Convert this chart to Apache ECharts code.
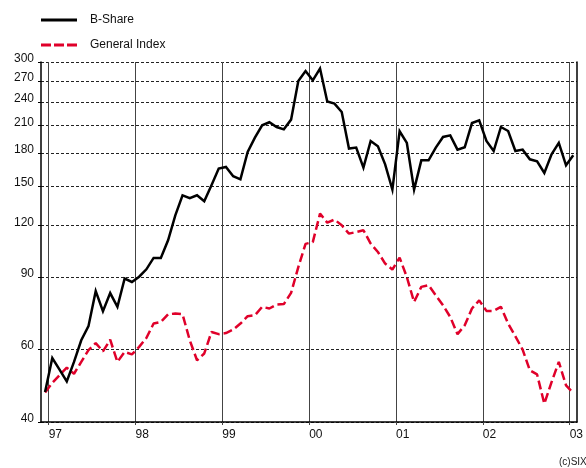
<!DOCTYPE html>
<html>
<head>
<meta charset="utf-8">
<script src="https://cdn.jsdelivr.net/npm/echarts@6/dist/echarts.min.js"></script>
<style>
  html, body { margin: 0; padding: 0; background: #fff; }
  #chart { width: 586px; height: 468px; }
</style>
</head>
<body>
<div id="chart"></div>
<script>
// Monthly observations (mid-month), Dec 1996 to Jan 2003
const months = [];
for (let y = 1996, m = 12; months.length < 74; ) {
  months.push(y + '-' + String(m).padStart(2, '0'));
  m++;
  if (m > 12) { m = 1; y++; }
}

const bShare = [
  47.3, 57.2, 53.6, 50.2, 56.0, 63.2, 68.4, 83.2, 74.4, 82.3, 76.2, 89.3, 87.6,
  90.2, 94.0, 100.2, 100.2, 110.6, 127.2, 142.3, 140.1, 142.3, 137.6, 150.5, 165.2,
  166.7, 158.3, 155.6, 181.3, 196.5, 210.5, 214.1, 208.5, 205.8, 217.3, 269.8, 285.3,
  270.8, 289.2, 240.4, 237.7, 226.8, 184.8, 185.8, 166.1, 192.8, 187.2, 169.2, 146.9,
  203.6, 190.7, 146.9, 173.0, 173.0, 185.8, 197.2, 199.0, 183.7, 186.1, 213.2, 216.5,
  192.8, 182.3, 208.5, 203.9, 182.3, 183.7, 174.0, 172.1, 161.2, 179.0, 190.7, 168.3,
  178.0
];

const generalIndex = [
  47.2, 49.8, 52.0, 54.2, 52.4, 56.0, 59.8, 62.2, 59.4, 63.4, 56.0, 59.2, 58.4,
  60.9, 64.0, 69.4, 70.0, 73.1, 73.4, 73.1, 63.2, 56.5, 58.7, 66.2, 65.4,
  65.8, 67.1, 69.4, 72.3, 72.7, 76.2, 75.5, 77.2, 77.4, 82.4, 95.2, 108.4,
  109.5, 128.4, 122.1, 124.2, 120.3, 114.8, 115.8, 117.0, 108.6, 103.6, 97.1, 93.9,
  100.4, 90.0, 78.3, 85.2, 86.0, 81.3, 76.9, 72.0, 65.4, 68.7, 75.5, 79.0,
  74.5, 74.5, 76.2, 69.4, 64.6, 60.0, 53.4, 52.2, 44.3, 50.0, 56.0, 49.1,
  47.0
];

const yearTicks = [1997, 1998, 1999, 2000, 2001, 2002, 2003];
const valueTicks = [40, 60, 90, 120, 150, 180, 210, 240, 270, 300];

const FONT = "'Liberation Sans', Arial, sans-serif";
const RED = '#e0002a';

// x: decimal year at mid-month; y: natural log of the index level
function monthPos(s) {
  const [y, m] = s.split('-').map(Number);
  return y + (m - 0.5) / 12;
}
const toPoints = vals => vals.map((v, i) => [monthPos(months[i]), Math.log(v)]);

// legend keys: a plain stroke and a three-dash stroke
const solidKey = 'path://M0,0h36v3h-36z';
const dashedKey = 'path://M0,0h10v3h-10zM13,0h10v3h-10zM26,0h10v3h-10z';

const chart = echarts.init(document.getElementById('chart'), null, { renderer: 'canvas' });

chart.setOption({
  animation: false,
  backgroundColor: '#fff',
  textStyle: { fontFamily: FONT },
  grid: { left: 41, right: 8, top: 62, bottom: 46, containLabel: false },
  legend: {
    orient: 'vertical',
    left: 41,
    top: 14,
    padding: 0,
    itemWidth: 36,
    itemHeight: 14,
    itemGap: 13,
    textStyle: { fontFamily: FONT, fontSize: 12, color: '#111', padding: [0, 0, 0, 8] },
    data: [
      { name: 'B-Share', icon: solidKey, itemStyle: { color: '#000' } },
      { name: 'General Index', icon: dashedKey, itemStyle: { color: RED } }
    ]
  },
  xAxis: {
    type: 'value',
    min: 1996.9115,
    max: 2003.084,
    axisLine: { show: true, lineStyle: { color: '#000', width: 1.5 } },
    axisTick: { show: true, length: 3, customValues: yearTicks, lineStyle: { color: '#444', width: 1 } },
    axisLabel: {
      show: true,
      customValues: yearTicks,
      formatter: v => String(Math.round(v) % 100).padStart(2, '0'),
      align: 'left',
      margin: 7,
      fontSize: 12,
      color: '#111',
      fontFamily: FONT
    },
    splitLine: { show: true, lineStyle: { color: '#444', width: 1, type: 'solid' } }
  },
  yAxis: [{
    type: 'value',
    min: Math.log(40),
    max: Math.log(300),
    axisLine: { show: true, onZero: false, lineStyle: { color: '#000', width: 1.5 } },
    axisTick: { show: true, length: 3, customValues: valueTicks.map(Math.log), lineStyle: { color: '#000', width: 1 } },
    axisLabel: {
      show: true,
      customValues: valueTicks.map(Math.log),
      formatter: v => String(Math.round(Math.exp(v))),
      verticalAlign: 'bottom',
      lineHeight: 7,
      margin: 7,
      fontSize: 12,
      color: '#111',
      fontFamily: FONT
    },
    splitLine: { show: true, lineStyle: { color: '#222', width: 1, type: [3, 2] } }
  }, {
    // right-hand frame edge
    type: 'value',
    position: 'right',
    min: Math.log(40),
    max: Math.log(300),
    axisLine: { show: true, onZero: false, lineStyle: { color: '#000', width: 1.5 } },
    axisTick: { show: false },
    axisLabel: { show: false },
    splitLine: { show: false }
  }],
  series: [{
    name: 'B-Share',
    type: 'line',
    data: toPoints(bShare),
    symbol: 'none',
    lineStyle: { color: '#000', width: 2.5, join: 'miter' },
    itemStyle: { color: '#000' },
    z: 3
  }, {
    name: 'General Index',
    type: 'line',
    data: toPoints(generalIndex),
    symbol: 'none',
    lineStyle: { color: RED, width: 2.5, type: [9, 4] },
    itemStyle: { color: RED },
    z: 2
  }],
  graphic: [{
    type: 'text',
    left: 559,
    top: 457,
    style: { text: '(c)SIX', fontSize: 10, fontFamily: FONT, fill: '#222' }
  }]
});
</script>
</body>
</html>
